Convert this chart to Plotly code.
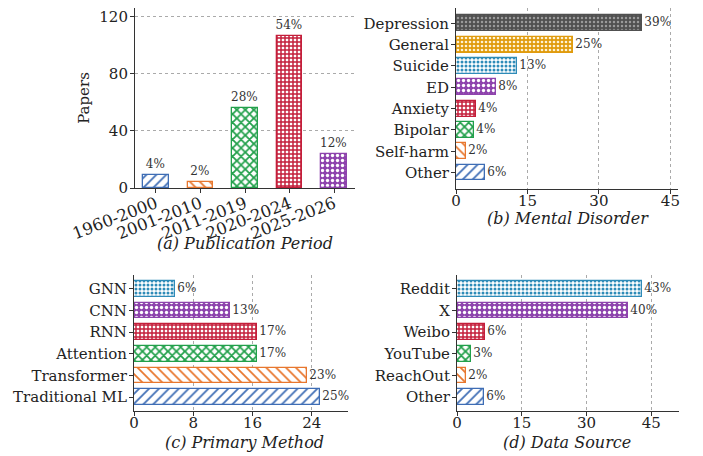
import plotly.graph_objects as go
from plotly.subplots import make_subplots

# ---------------- data ----------------
period_cats = ["1960-2000", "2001-2010", "2011-2019", "2020-2024", "2025-2026"]
period_vals = [9, 4, 56, 107, 24]
period_pct = ["4%", "2%", "28%", "54%", "12%"]

disorder_cats = ["Depression", "General", "Suicide", "ED", "Anxiety", "Bipolar", "Self-harm", "Other"]
disorder_vals = [39.1, 24.6, 12.7, 8.4, 4.2, 3.8, 2.0, 6.1]
disorder_pct = ["39%", "25%", "13%", "8%", "4%", "4%", "2%", "6%"]

method_cats = ["GNN", "CNN", "RNN", "Attention", "Transformer", "Traditional ML"]
method_vals = [5.5, 12.9, 16.6, 16.6, 23.3, 25.1]
method_pct = ["6%", "13%", "17%", "17%", "23%", "25%"]

source_cats = ["Reddit", "X", "Weibo", "YouTube", "ReachOut", "Other"]
source_vals = [42.9, 39.6, 6.4, 3.2, 2.1, 6.3]
source_pct = ["43%", "40%", "6%", "3%", "2%", "6%"]

# ---------------- styles ----------------
BLUE, ORANGE, GREEN, RED, PURPLE = "#3E6DB5", "#E8772E", "#22A04B", "#C41E3A", "#8E44AD"
TEAL, GOLD, GRAY = "#2E8BB8", "#E09B0E", "#505050"

STY = {
    "blue":   dict(line=BLUE,   pat=dict(shape="/", fgcolor=BLUE, bgcolor="white", size=7, solidity=0.25, fillmode="replace")),
    "orange": dict(line=ORANGE, pat=dict(shape="\\", fgcolor=ORANGE, bgcolor="white", size=7, solidity=0.25, fillmode="replace")),
    "green":  dict(line=GREEN,  pat=dict(shape="x", fgcolor=GREEN, bgcolor="white", size=6, solidity=0.5, fillmode="replace")),
    "red":    dict(line=RED,    pat=dict(shape="+", fgcolor=RED, bgcolor="white", size=4, solidity=0.6, fillmode="replace")),
    "purple": dict(line=PURPLE, pat=dict(shape=".", fgcolor="white", bgcolor=PURPLE, size=5, solidity=0.35, fillmode="replace")),
    "teal":   dict(line=TEAL,   pat=dict(shape=".", fgcolor=TEAL, bgcolor="white", size=4, solidity=0.45, fillmode="replace")),
    "gold":   dict(line=GOLD,   pat=dict(shape=".", fgcolor="#FFF3D6", bgcolor=GOLD, size=4, solidity=0.35, fillmode="replace")),
    "gray":   dict(line=GRAY,   pat=dict(shape=".", fgcolor="#9A9A9A", bgcolor=GRAY, size=4, solidity=0.3, fillmode="replace")),
}

period_sty = ["blue", "orange", "green", "red", "purple"]
disorder_sty = ["gray", "gold", "teal", "purple", "red", "green", "orange", "blue"]
method_sty = ["teal", "purple", "red", "green", "orange", "blue"]
source_sty = ["teal", "purple", "red", "green", "orange", "blue"]

FONT = "DejaVu Serif"
TXT = "#333333"

fig = make_subplots(rows=2, cols=2)


def add_bars(cats, vals, pct, sty, row, col, horizontal, width):
    for c, v, p, s in zip(cats, vals, pct, sty):
        st = STY[s]
        kw = dict(y=[c], x=[v], orientation="h") if horizontal else dict(x=[c], y=[v])
        fig.add_trace(go.Bar(
            **kw, width=width, text=[p], textposition="outside", constraintext="none",
            cliponaxis=False,
            textfont=dict(family=FONT, size=12, color=TXT),
            marker=dict(color="white", line=dict(color=st["line"], width=1.3), pattern=st["pat"]),
            showlegend=False, hoverinfo="skip"), row=row, col=col)


add_bars(period_cats, period_vals, period_pct, period_sty, 1, 1, False, 0.57)
add_bars(disorder_cats, disorder_vals, disorder_pct, disorder_sty, 1, 2, True, 0.74)
add_bars(method_cats, method_vals, method_pct, method_sty, 2, 1, True, 0.72)
add_bars(source_cats, source_vals, source_pct, source_sty, 2, 2, True, 0.72)

# page body has a default 8px margin; figure sized to fit inside the window
OFF = 8
W, H = 703 - OFF, 456 - OFF


def clamp(v):
    return min(1.0, max(0.0, v))


def dx(a, b):
    return [clamp((a - OFF) / W), clamp((b - OFF) / W)]


def dy(top, bot):
    return [clamp(1 - (bot - OFF) / H), clamp(1 - (top - OFF) / H)]


axis_common = dict(showline=True, linecolor="#333333", linewidth=1.1, ticks="outside", ticklen=4,
                   tickwidth=1, tickcolor="#333333", mirror=False, zeroline=False, automargin=False,
                   tickfont=dict(family=FONT, size=15, color="#222222"),
                   gridcolor="#AAAAAA", griddash="dot", gridwidth=0.8)
XSO, YSO = -6, -1

# panel a
fig.update_xaxes(axis_common, domain=dx(135, 355), range=[-0.47, 4.47], tickangle=-21,
                 tickfont=dict(family=FONT, size=16.5, color="#222222"), ticklabelstandoff=-5,
                 categoryorder="array", categoryarray=period_cats, showgrid=False, row=1, col=1)
fig.update_yaxes(axis_common, domain=dy(8, 188), range=[0, 126.3], tickvals=[0, 40, 80, 120],
                 ticklabelstandoff=YSO, showgrid=True,
                 title=dict(text="Papers", font=dict(family=FONT, size=15, color="#222222"), standoff=6),
                 row=1, col=1)
# panel b
fig.update_xaxes(axis_common, domain=dx(456, 678), range=[0, 46.6], tickvals=[0, 15, 30, 45],
                 ticklabelstandoff=XSO, showgrid=True, row=1, col=2)
fig.update_yaxes(axis_common, domain=dy(8, 189), range=[7.77, -0.72], categoryorder="array",
                 ticklabelstandoff=YSO, categoryarray=disorder_cats, showgrid=False, row=1, col=2)
# panel c
fig.update_xaxes(axis_common, domain=dx(134, 348), range=[0, 28.9], tickvals=[0, 8, 16, 24],
                 ticklabelstandoff=XSO, showgrid=True, row=2, col=1)
fig.update_yaxes(axis_common, domain=dy(275, 411), range=[5.64, -0.64], categoryorder="array",
                 ticklabelstandoff=YSO, categoryarray=method_cats, showgrid=False, row=2, col=1)
# panel d
fig.update_xaxes(axis_common, domain=dx(457, 679), range=[0, 51.4], tickvals=[0, 15, 30, 45],
                 ticklabelstandoff=XSO, showgrid=True, row=2, col=2)
fig.update_yaxes(axis_common, domain=dy(275, 411), range=[5.64, -0.64], categoryorder="array",
                 ticklabelstandoff=YSO, categoryarray=source_cats, showgrid=False, row=2, col=2)

titles = [("(a) Publication Period", 245, 243), ("(b) Mental Disorder", 568, 219),
          ("(c) Primary Method", 245, 442), ("(d) Data Source", 567, 442)]
for t, x, y in titles:
    fig.add_annotation(text=f"<i>{t}</i>", x=(x - OFF) / W, y=1 - (y - OFF) / H, xref="paper", yref="paper",
                       xanchor="center", yanchor="middle", showarrow=False,
                       font=dict(family=FONT, size=16, color="#222222"))

fig.update_layout(width=W, height=H, margin=dict(l=0, r=0, t=0, b=0),
                  paper_bgcolor="white", plot_bgcolor="white", bargap=0,
                  font=dict(family=FONT, color="#222222"))

fig.write_html("out.html")
